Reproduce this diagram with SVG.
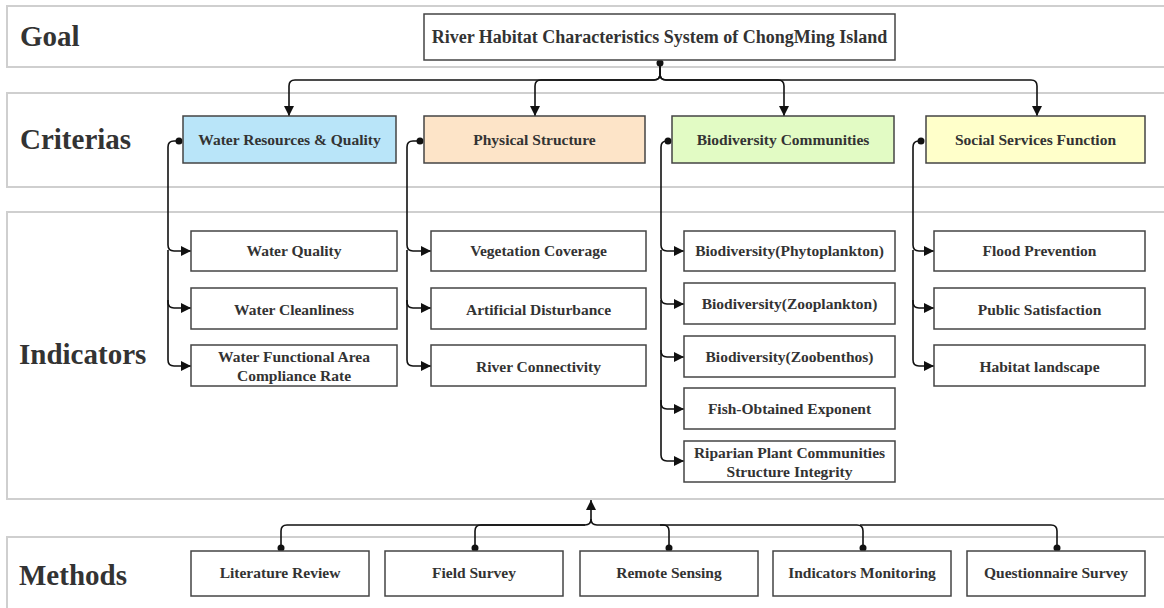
<svg xmlns="http://www.w3.org/2000/svg" width="1164" height="608" viewBox="0 0 1164 608">
<defs>
<style>
.band{fill:#fff;stroke:#cfcfcf;stroke-width:2}
.lane{font-family:'Liberation Serif','Times New Roman',Times,'DejaVu Serif',serif;font-weight:bold;font-size:29px;fill:#333}
.box{stroke:#444;stroke-width:1.5}
.t{font-family:'Liberation Serif','Times New Roman',Times,'DejaVu Serif',serif;font-weight:bold;font-size:15.5px;fill:#333;text-anchor:middle}
.gt{font-family:'Liberation Serif','Times New Roman',Times,'DejaVu Serif',serif;font-weight:bold;font-size:18px;fill:#333;text-anchor:middle}
.c{fill:none;stroke:#111;stroke-width:1.6}
.dot{fill:#111}
</style>
<marker id="ah" viewBox="0 0 10 10" refX="10" refY="5" markerWidth="10" markerHeight="10" markerUnits="userSpaceOnUse" orient="auto"><path d="M0,0 L10,5 L0,10 z" fill="#111"/></marker>
</defs>
<rect width="1164" height="608" fill="#fff"/>
<g id="lanes">
<rect class="band" x="7" y="6" width="1170" height="61"/>
<rect class="band" x="7" y="93" width="1170" height="94"/>
<rect class="band" x="7" y="212" width="1170" height="287"/>
<rect class="band" x="7" y="537" width="1170" height="90"/>
<text class="lane" x="20" y="46">Goal</text>
<text class="lane" x="20" y="149">Criterias</text>
<text class="lane" x="19" y="364">Indicators</text>
<text class="lane" x="19" y="585">Methods</text>
</g>
<g id="connectors">
<path class="c" marker-end="url(#ah)" d="M660,63 V74 Q660,80 654,80 H295 Q289,80 289,86 V116"/>
<path class="c" marker-end="url(#ah)" d="M660,63 V74 Q660,80 654,80 H541 Q535,80 535,86 V116"/>
<path class="c" marker-end="url(#ah)" d="M660,63 V74 Q660,80 666,80 H778 Q784,80 784,86 V116"/>
<path class="c" marker-end="url(#ah)" d="M660,63 V74 Q660,80 666,80 H1031 Q1037,80 1037,86 V116"/>
<circle class="dot" cx="660" cy="63" r="3.5"/>
<path class="c" marker-end="url(#ah)" d="M178,141 H174 Q168,141 168,147 V245 Q168,251 174,251 H191"/>
<path class="c" marker-end="url(#ah)" d="M168,250 V302 Q168,308 174,308 H191"/>
<path class="c" marker-end="url(#ah)" d="M168,300 V360 Q168,366 174,366 H191"/>
<circle class="dot" cx="179" cy="141" r="3.5"/>
<path class="c" marker-end="url(#ah)" d="M419,141 H413 Q407,141 407,147 V245 Q407,251 413,251 H431"/>
<path class="c" marker-end="url(#ah)" d="M407,250 V302 Q407,308 413,308 H431"/>
<path class="c" marker-end="url(#ah)" d="M407,300 V360 Q407,366 413,366 H431"/>
<circle class="dot" cx="420" cy="141" r="3.5"/>
<path class="c" marker-end="url(#ah)" d="M668,141 H667 Q661,141 661,147 V245 Q661,251 667,251 H684"/>
<path class="c" marker-end="url(#ah)" d="M661,250 V298 Q661,304 667,304 H684"/>
<path class="c" marker-end="url(#ah)" d="M661,300 V351 Q661,357 667,357 H684"/>
<path class="c" marker-end="url(#ah)" d="M661,350 V403 Q661,409 667,409 H684"/>
<path class="c" marker-end="url(#ah)" d="M661,400 V455 Q661,461 667,461 H684"/>
<circle class="dot" cx="668" cy="141" r="3.5"/>
<path class="c" marker-end="url(#ah)" d="M921,141 H919 Q913,141 913,147 V245 Q913,251 919,251 H934"/>
<path class="c" marker-end="url(#ah)" d="M913,250 V302 Q913,308 919,308 H934"/>
<path class="c" marker-end="url(#ah)" d="M913,300 V360 Q913,366 919,366 H934"/>
<circle class="dot" cx="921" cy="141" r="3.5"/>
<path class="c" marker-end="url(#ah)" d="M281,547 V531 Q281,525 287,525 H585 Q591,525 591,519 V500"/>
<path class="c" d="M475,547 V531 Q475,525 481,525 H585"/>
<path class="c" d="M669,547 V531 Q669,525 663,525 H597 Q591,525 591,519"/>
<path class="c" d="M863,547 V531 Q863,525 857,525 H660"/>
<path class="c" d="M1057,547 V531 Q1057,525 1051,525 H860"/>
<circle class="dot" cx="281" cy="548" r="3.5"/>
<circle class="dot" cx="475" cy="548" r="3.5"/>
<circle class="dot" cx="669" cy="548" r="3.5"/>
<circle class="dot" cx="863" cy="548" r="3.5"/>
<circle class="dot" cx="1057" cy="548" r="3.5"/>
</g>
<g id="goal"><rect class="box" x="424" y="14" width="471" height="46" fill="#fff"/><text class="gt" x="659.5" y="43">River Habitat Characteristics System of ChongMing Island</text></g>
<g id="c-water"><rect class="box" x="183" y="116" width="213" height="47" fill="#b9e5f9"/><text class="t" x="289.5" y="145">Water Resources &amp; Quality</text></g>
<g id="c-physical"><rect class="box" x="424" y="116" width="221" height="47" fill="#fde4c8"/><text class="t" x="534.5" y="145">Physical Structure</text></g>
<g id="c-bio"><rect class="box" x="672" y="116" width="222" height="47" fill="#e2fbc4"/><text class="t" x="783" y="145">Biodiversity Communities</text></g>
<g id="c-social"><rect class="box" x="926" y="116" width="219" height="47" fill="#ffffca"/><text class="t" x="1035.5" y="145">Social Services Function</text></g>
<g id="i-wq"><rect class="box" x="191" y="231" width="206" height="40" fill="#fff"/><text class="t" x="294" y="256">Water Quality</text></g>
<g id="i-wc"><rect class="box" x="191" y="288" width="206" height="41" fill="#fff"/><text class="t" x="294" y="315">Water Cleanliness</text></g>
<g id="i-wf"><rect class="box" x="191" y="345" width="206" height="41" fill="#fff"/><text class="t" x="294" y="362">Water Functional Area</text><text class="t" x="294" y="381">Compliance Rate</text></g>
<g id="i-vc"><rect class="box" x="431" y="231" width="215" height="40" fill="#fff"/><text class="t" x="538.5" y="256">Vegetation Coverage</text></g>
<g id="i-ad"><rect class="box" x="431" y="288" width="215" height="41" fill="#fff"/><text class="t" x="538.5" y="315">Artificial Disturbance</text></g>
<g id="i-rc"><rect class="box" x="431" y="345" width="215" height="41" fill="#fff"/><text class="t" x="538.5" y="372">River Connectivity</text></g>
<g id="i-phy"><rect class="box" x="684" y="231" width="211" height="40" fill="#fff"/><text class="t" x="789.5" y="256">Biodiversity(Phytoplankton)</text></g>
<g id="i-zoo"><rect class="box" x="684" y="283" width="211" height="41" fill="#fff"/><text class="t" x="789.5" y="309">Biodiversity(Zooplankton)</text></g>
<g id="i-zb"><rect class="box" x="684" y="336" width="211" height="41" fill="#fff"/><text class="t" x="789.5" y="362">Biodiversity(Zoobenthos)</text></g>
<g id="i-fish"><rect class="box" x="684" y="388" width="211" height="41" fill="#fff"/><text class="t" x="789.5" y="414">Fish-Obtained Exponent</text></g>
<g id="i-rip"><rect class="box" x="684" y="441" width="211" height="41" fill="#fff"/><text class="t" x="789.5" y="458">Riparian Plant Communities</text><text class="t" x="789.5" y="477">Structure Integrity</text></g>
<g id="i-fp"><rect class="box" x="934" y="231" width="211" height="40" fill="#fff"/><text class="t" x="1039.5" y="256">Flood Prevention</text></g>
<g id="i-ps"><rect class="box" x="934" y="288" width="211" height="41" fill="#fff"/><text class="t" x="1039.5" y="315">Public Satisfaction</text></g>
<g id="i-hl"><rect class="box" x="934" y="345" width="211" height="41" fill="#fff"/><text class="t" x="1039.5" y="372">Habitat landscape</text></g>
<g id="m-lit"><rect class="box" x="191" y="551" width="178" height="45" fill="#fff"/><text class="t" x="280" y="578">Literature Review</text></g>
<g id="m-field"><rect class="box" x="385" y="551" width="178" height="45" fill="#fff"/><text class="t" x="474" y="578">Field Survey</text></g>
<g id="m-remote"><rect class="box" x="580" y="551" width="178" height="45" fill="#fff"/><text class="t" x="669" y="578">Remote Sensing</text></g>
<g id="m-ind"><rect class="box" x="773" y="551" width="178" height="45" fill="#fff"/><text class="t" x="862" y="578">Indicators Monitoring</text></g>
<g id="m-q"><rect class="box" x="967" y="551" width="178" height="45" fill="#fff"/><text class="t" x="1056" y="578">Questionnaire Survey</text></g>
</svg>
